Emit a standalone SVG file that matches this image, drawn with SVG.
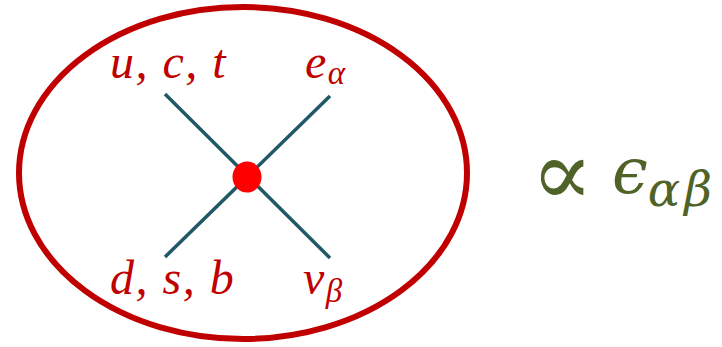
<svg xmlns="http://www.w3.org/2000/svg" width="722" height="347" viewBox="0 0 722 347">
<style>
.lbl{font-family:"Liberation Serif","DejaVu Serif",serif;font-style:italic;fill:#C00000;font-size:48px;letter-spacing:1.5px}
.sub{font-size:33px;letter-spacing:0}
.leg{stroke:#215868;stroke-width:3.5;stroke-linecap:butt}
.rhs{font-family:"DejaVu Serif","Liberation Serif",serif;fill:#4F6228}
</style>
<rect width="722" height="347" fill="#fff"/>
<g id="boundary">
<ellipse cx="243" cy="173" rx="224" ry="166" fill="none" stroke="#C00000" stroke-width="6"/>
</g>
<g id="connectors">
<line class="leg" x1="165" y1="94" x2="330" y2="258"/>
<line class="leg" x1="330" y1="96" x2="165" y2="257"/>
</g>
<g id="vertex">
<ellipse cx="247" cy="177" rx="14.5" ry="15.5" fill="#FF0000"/>
</g>
<g id="quarks-up"><text class="lbl" x="110" y="78">u, c, t</text></g>
<g id="lepton-e"><text class="lbl" x="305" y="78">e<tspan class="sub" dy="6">α</tspan></text></g>
<g id="quarks-down"><text class="lbl" x="110" y="294">d, s, b</text></g>
<g id="neutrino"><text class="lbl" x="303" y="294">ν<tspan class="sub" dy="8">β</tspan></text></g>
<g id="relation">
<text class="rhs" x="531" y="205" font-size="92" font-family="DejaVu Sans">∝</text>
<text class="rhs" x="612" y="193" font-size="64" font-style="italic">ϵ<tspan font-size="48" dy="13" letter-spacing="4">αβ</tspan></text>
</g>
</svg>
